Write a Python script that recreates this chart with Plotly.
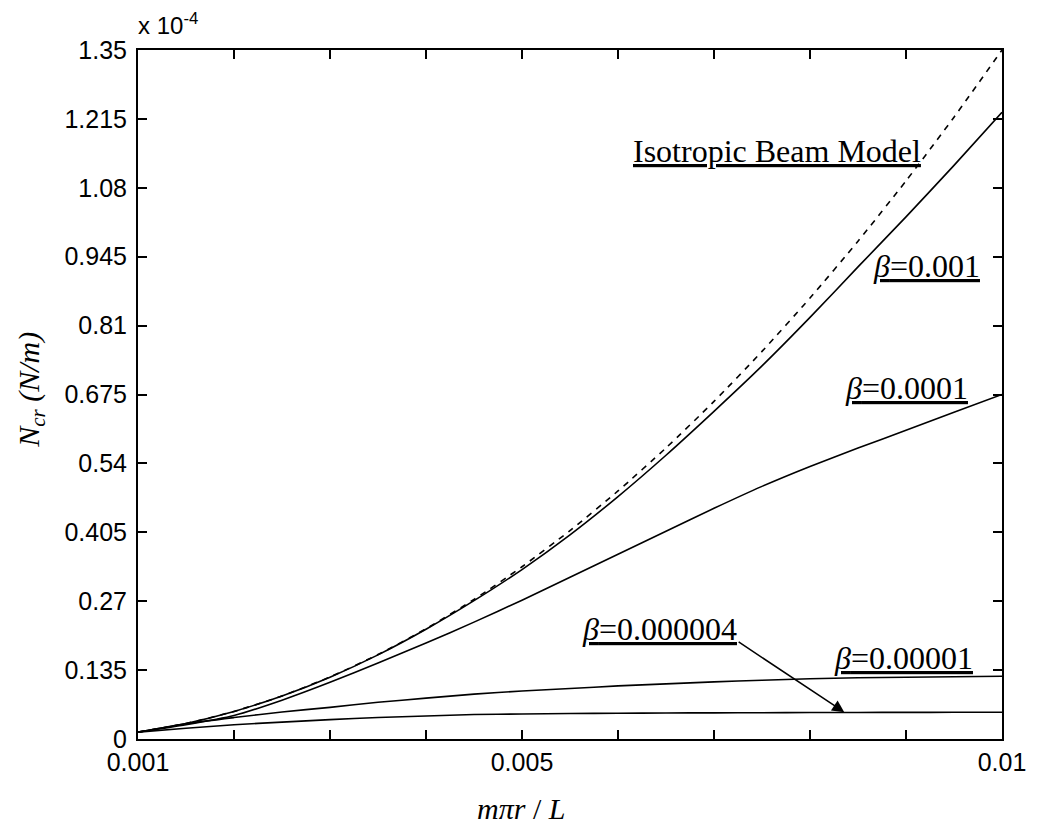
import plotly.graph_objects as go

# x values (m*pi*r/L)
x_vals = [0.001, 0.0015, 0.002, 0.0025, 0.003, 0.0035, 0.004, 0.0045, 0.005, 0.0055,
          0.006, 0.0065, 0.007, 0.0075, 0.008, 0.0085, 0.009, 0.0095, 0.01]

# N_cr values in units of 1e-4 N/m
iso_beam = [0.0135, 0.0304, 0.054, 0.0844, 0.1215, 0.1654, 0.216, 0.2734, 0.3375, 0.4084,
            0.486, 0.5704, 0.6615, 0.7594, 0.864, 0.9754, 1.0935, 1.2184, 1.35]
beta_1e3 = [0.0135, 0.0304, 0.054, 0.0843, 0.1212, 0.1648, 0.215, 0.271, 0.332, 0.400,
            0.475, 0.556, 0.642, 0.731, 0.826, 0.925, 1.023, 1.124, 1.228]
beta_1e4 = [0.0135, 0.028, 0.046, 0.076, 0.111, 0.149, 0.188, 0.229, 0.272, 0.317,
            0.362, 0.407, 0.452, 0.495, 0.534, 0.570, 0.605, 0.640, 0.675]
beta_1e5 = [0.0135, 0.030, 0.042, 0.053, 0.062, 0.072, 0.080, 0.088, 0.094, 0.099,
            0.104, 0.108, 0.112, 0.115, 0.118, 0.120, 0.121, 0.122, 0.123]
beta_4e6 = [0.0135, 0.021, 0.028, 0.033, 0.038, 0.042, 0.045, 0.048, 0.049, 0.050,
            0.0505, 0.051, 0.0512, 0.0515, 0.0518, 0.052, 0.0522, 0.0523, 0.0525]

x_tickvals = [0.001, 0.002, 0.003, 0.004, 0.005, 0.006, 0.007, 0.008, 0.009, 0.01]
x_ticktext = ["0.001", "", "", "", "0.005", "", "", "", "", "0.01"]
y_tickvals = [0, 0.135, 0.27, 0.405, 0.54, 0.675, 0.81, 0.945, 1.08, 1.215, 1.35]
y_ticktext = ["0", "0.135", "0.27", "0.405", "0.54", "0.675", "0.81", "0.945", "1.08", "1.215", "1.35"]

W, H = 1038, 826
L, R, T, B = 138, 1009, 50, 739
XMIN, XMAX, YMIN, YMAX = 0.001, 0.01, 0.0, 1.35


def px2x(px):
    return XMIN + (px - L) / (R - L) * (XMAX - XMIN)


def px2y(py):
    return YMIN + (B - py) / (B - T) * (YMAX - YMIN)


def px2paperx(px):
    return (px - L) / (R - L)


def px2papery(py):
    return (B - py) / (B - T)


fig = go.Figure()
line_w = 1.6
fig.add_trace(go.Scatter(x=x_vals, y=iso_beam, mode="lines",
                         line=dict(color="black", width=line_w, dash="6px,6px",
                                   shape="spline", smoothing=0.6)))
for ys in [beta_1e3, beta_1e4, beta_1e5, beta_4e6]:
    fig.add_trace(go.Scatter(x=x_vals, y=ys, mode="lines",
                             line=dict(color="black", width=line_w,
                                       shape="spline", smoothing=0.6)))

serif = "Liberation Serif, Times New Roman, serif"
sans = "Liberation Sans, Arial, sans-serif"

annotations = []


def label(text, x_right_px, y_mid_px, size=32):
    annotations.append(dict(
        text=text, x=px2x(x_right_px), y=px2y(y_mid_px), xref="x", yref="y",
        xanchor="right", yanchor="middle", showarrow=False,
        font=dict(family=serif, size=size, color="black")))


label("<u>Isotropic Beam Model</u>", 929, 151)
label("<u><i>β</i>=0.001</u>", 989, 266)
label("<u><i>β</i>=0.0001</u>", 977, 388)
label("<u><i>β</i>=0.000004</u>", 744, 629)
label("<u><i>β</i>=0.00001</u>", 982, 658)

# arrow from beta=0.000004 label to its curve
annotations.append(dict(
    x=px2x(850), y=0.0525, xref="x", yref="y",
    ax=px2x(742), ay=px2y(641), axref="x", ayref="y",
    text="", showarrow=True, arrowhead=2, arrowsize=1.6, arrowwidth=1.5,
    arrowcolor="black"))

# exponent label
annotations.append(dict(
    text="x 10<sup>-4</sup>", x=px2paperx(136), y=px2papery(24), xref="paper", yref="paper",
    xanchor="left", yanchor="middle", showarrow=False,
    font=dict(family=sans, size=24, color="black")))

# axis titles
annotations.append(dict(
    text="<i>mπr</i> / <i>L</i>", x=px2paperx(524), y=px2papery(808), xref="paper", yref="paper",
    xanchor="center", yanchor="middle", showarrow=False,
    font=dict(family=serif, size=30, color="black")))
annotations.append(dict(
    text="<i>N<sub>cr</sub> (N/m)</i>", x=px2paperx(30), y=px2papery(390), xref="paper", yref="paper",
    xanchor="center", yanchor="middle", showarrow=False, textangle=-90,
    font=dict(family=serif, size=30, color="black")))

axis_common = dict(showline=True, linecolor="black", linewidth=2, mirror="ticks",
                   ticks="inside", ticklen=9, tickwidth=1.5, tickcolor="black",
                   showgrid=False, zeroline=False,
                   tickfont=dict(family=sans, size=25, color="black"))

fig.update_layout(
    width=W, height=H,
    margin=dict(l=L, r=W - R, t=T, b=H - B),
    paper_bgcolor="white", plot_bgcolor="white",
    showlegend=False,
    xaxis=dict(range=[XMIN, XMAX], tickmode="array", tickvals=x_tickvals,
               ticktext=x_ticktext, ticklabelstandoff=0, **axis_common),
    yaxis=dict(range=[YMIN, YMAX], tickmode="array", tickvals=y_tickvals,
               ticktext=y_ticktext, ticklabelstandoff=4, **axis_common),
    annotations=annotations,
)

fig.write_html("out.html")
